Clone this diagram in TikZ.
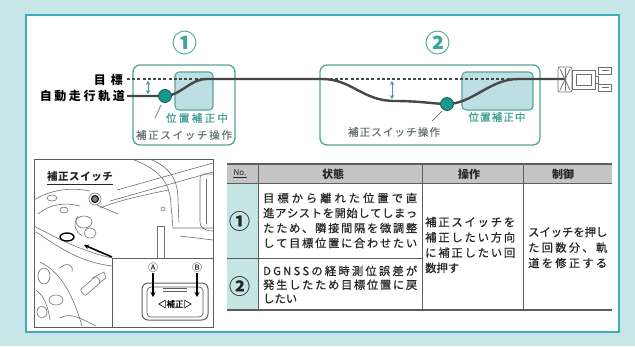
\documentclass[tikz,border=0pt]{standalone}
\usepackage{fontspec}
\setmainfont{Noto Sans CJK JP}
\newfontfamily\jpmed{Noto Sans CJK JP}[FakeBold=0.6]
\usetikzlibrary{arrows.meta,calc}

% spread the characters of one line evenly over a given width
\newcommand\spreadline[2]{\makebox[#1][s]{\spreadgo#2\relax}}
\def\spreadgo#1{#1\spreadnext}
\def\spreadnext#1{\ifx\relax#1\else\hfil#1\expandafter\spreadnext\fi}

\definecolor{bgteal}{HTML}{C8E6E7}
\definecolor{panelline}{HTML}{3AAFBC}
\definecolor{boxline}{HTML}{55A596}
\definecolor{shade}{HTML}{BDDFE3}
\definecolor{dotfill}{HTML}{17988B}
\definecolor{dotline}{HTML}{0E5E56}
\definecolor{trackc}{HTML}{474747}
\definecolor{numteal}{HTML}{3FA596}
\definecolor{tealtext}{HTML}{3C9C93}
\definecolor{graytext}{HTML}{667373}
\definecolor{headfill}{HTML}{C5C5C5}
\definecolor{nofill}{HTML}{C6E6E6}
\definecolor{rulec}{HTML}{5E5E5E}
\definecolor{tabtext}{HTML}{262626}
\definecolor{inkc}{HTML}{707070}

\tikzset{
  areabox/.style={draw=boxline, line width=1.3pt, rounded corners=7pt, fill=white},
  shadebox/.style={draw=boxline, line width=1.1pt, rounded corners=4pt, fill=shade},
  track/.style={draw=trackc, line width=2.4pt},
  targetline/.style={draw=trackc, line width=1.1pt, dash pattern=on 3pt off 2.2pt},
  posdot/.style={circle, fill=dotfill, draw=dotline, line width=0.8pt, minimum size=13pt, inner sep=0pt},
  gap/.style={draw=tealtext, line width=0.9pt, {Stealth[length=4pt,width=4.5pt]}-{Stealth[length=4pt,width=4.5pt]}},
  leader/.style={draw=graytext, line width=0.7pt},
  bigno/.style={font=\bfseries\fontsize{25}{25}\selectfont, text=numteal, inner sep=0pt},
  tabno/.style={font=\bfseries\fontsize{21}{21}\selectfont, text=tabtext, inner sep=0pt},
  lbl/.style={font=\bfseries\fontsize{12}{12}\selectfont, inner sep=0pt},
  smallteal/.style={font=\jpmed\fontsize{10.5}{10.5}\selectfont, text=tealtext, inner sep=0pt},
  smallgray/.style={font=\jpmed\fontsize{10.5}{10.5}\selectfont, text=graytext, inner sep=0pt},
  headtxt/.style={font=\bfseries\fontsize{11}{11}\selectfont, text=tabtext, inner sep=0pt},
  cell/.style={font=\jpmed\fontsize{11.3}{15}\selectfont, align=left, inner sep=0pt, text=tabtext},
  rule/.style={draw=rulec, line width=1pt},
  ink/.style={draw=inkc, line width=0.6pt},
  frame/.style={draw=rulec, line width=0.8pt},
  tractorline/.style={draw=inkc, line width=0.8pt},
  blackarrow/.style={draw=black, line width=1.6pt, -{Stealth[length=5pt,width=5pt]}}
}

\begin{document}
\begin{tikzpicture}[x=1pt,y=-1pt]
\useasboundingbox (0,0) rectangle (635,346);
\fill[bgteal] (0,0) rectangle (635,346);
\draw[draw=panelline, line width=1.4pt, fill=white] (26,15) rectangle (619,332);

% ---------- upper diagram: two correction areas ----------
\node[bigno] (n1) at (185,43) {①};
\node[bigno] (n2) at (438,43) {②};

\draw[areabox] (133,65) rectangle (235,145);
\draw[areabox] (320,65) rectangle (540,145);
\draw[shadebox] (175,72) rectangle (213,110);
\draw[shadebox] (462,72) rectangle (533,110);

\node[lbl, anchor=east] (lblT) at (123,80) {\spreadline{29pt}{目標}};
\node[lbl, anchor=east] (lblA) at (125,96) {\spreadline{85pt}{自動走行軌道}};

\coordinate (tgtS) at (127,79);
\coordinate (tgtE) at (562,79);
\coordinate (trkS) at (127,96);
\coordinate (trkE) at (566,79);

\draw[targetline] (tgtS) -- (tgtE);
\draw[track] (trkS) -- (165,96)
  .. controls (180,96) and (190,79) .. (207,79) -- (322,79)
  .. controls (352,79) and (362,101) .. (395,101)
  .. controls (420,101) and (435,104) .. (447,104)
  .. controls (472,104) and (490,79) .. (518,79) -- (trkE);

\node[posdot] (d1) at (165,96) {};
\node[posdot] (d2) at (447,104) {};

\coordinate (g1a) at (148,81); \coordinate (g1b) at (148,94);
\coordinate (g2a) at (392,81); \coordinate (g2b) at (392,99);
\draw[gap] (g1a) -- (g1b);
\draw[gap] (g2a) -- (g2b);

\node[smallteal] (c1) at (197,118) {\spreadline{62pt}{位置補正中}};
\node[smallgray] (o1) at (184,135) {\spreadline{96pt}{補正スイッチ操作}};
\node[smallteal] (c2) at (497,117) {\spreadline{57pt}{位置補正中}};
\node[smallgray] (o2) at (394,132) {\spreadline{92pt}{補正スイッチ操作}};

\coordinate (l1a) at (161,105); \coordinate (l1b) at (155,118);
\coordinate (l2a) at (442,111); \coordinate (l2b) at (432,121);
\draw[leader] (l1a) -- (l1b);
\draw[leader] (l2a) -- (l2b);

% tractor seen from above
\draw[tractorline, rounded corners=2pt] (558,67) rectangle (572,92);
\draw[tractorline] (560,69) -- (570,90) (570,69) -- (560,90);
\draw[tractorline] (565,68) -- (565,91);
\draw[tractorline] (572,70) rectangle (595,89);
\draw[tractorline] (576,74) rectangle (591,85);
\draw[tractorline] (595,76) rectangle (598,83);
\draw[tractorline] (598,67) rectangle (611,74);
\draw[tractorline] (598,84) rectangle (611,91);
\draw[tractorline] (602,70) -- (609,70) (602,87) -- (609,87);

% ---------- switch illustration ----------
\draw[frame, fill=white] (34,159) rectangle (213,327);
\node[font=\bfseries\fontsize{10.5}{10.5}\selectfont, text=tabtext, inner sep=0pt] (swl) at (80,177) {\spreadline{66pt}{補正スイッチ}};
\draw[draw=tabtext, line width=0.8pt] ($(swl.south west)+(0,2)$) -- ($(swl.south east)+(0,2)$);

% cab pillar, window and dash
\draw[ink] (132,159) .. controls (160,170) and (170,182) .. (171,205) -- (173,228) -- (213,228);
\draw[ink] (150,159) .. controls (172,168) and (178,182) .. (178,200) -- (179,222);
\draw[ink] (213,174) -- (204,174) .. controls (201,174) and (200,176) .. (200,180) -- (200,222) .. controls (200,227) and (204,231) .. (213,231);
\draw[ink] (206,179) -- (206,224);
\draw[ink] (110,201) -- (213,172);
\draw[ink] (117,190) -- (213,163);
\draw[ink] (100,208) .. controls (120,200) and (140,196) .. (168,190);
\draw[ink] (157,258) -- (157,226) -- (164,226) -- (164,258);
\draw[ink] (163,209) circle (2);
\draw[ink] (180,236) -- (213,240);
% left console and knob
\draw[ink] (34,200) .. controls (50,190) and (70,187) .. (90,191);
\draw[ink] (38,214) .. controls (50,204) and (65,202) .. (80,206);
\draw[ink] (52,198) ellipse (5 and 3);
\draw[ink] (64,210) ellipse (4 and 3);
\draw[draw=black, line width=1pt, fill=gray] (95,199) circle (3.5);
\draw[ink] (95,199) circle (6);
\draw[ink] (97,205) -- (118,214);
\draw[ink] (84,222) ellipse (8 and 6);
\draw[ink] (90,233) ellipse (6 and 5);
\draw[ink] (78,216) .. controls (72,225) and (76,232) .. (82,236);
\draw[ink] (34,226) .. controls (60,240) and (85,252) .. (112,258);
\draw[ink] (36,232) .. controls (60,248) and (80,262) .. (112,266);
\draw[draw=black, line width=1.4pt] (67,237) ellipse (7 and 4);
% lower left controls
\draw[ink] (40,262) .. controls (60,272) and (72,292) .. (82,326);
\draw[ink] (44,276) ellipse (6 and 8);
\draw[ink] (56,300) ellipse (7 and 5);
\draw[ink] (42,312) ellipse (5 and 6);
\draw[ink] (60,268) .. controls (66,262) and (74,264) .. (72,272);
\draw[ink, rounded corners=2pt] (80,290) -- (96,276) -- (101,282) -- (85,296) -- cycle;
\draw[ink] (92,278) -- (104,272) -- (106,278) -- (99,283);
\draw[ink] (36,290) .. controls (44,296) and (48,306) .. (50,320);
\draw[ink] (60,318) .. controls (70,312) and (80,318) .. (96,326);

% inset with the switch
\draw[frame, fill=white] (112,258) rectangle (213,327);
\coordinate (armTo) at (84,245);
\draw[blackarrow] (112,257) -- (armTo);
\node[font=\fontsize{10}{10}\selectfont, inner sep=0pt] (keyA) at (153,268) {Ⓐ};
\node[font=\fontsize{10}{10}\selectfont, inner sep=0pt] (keyB) at (197,268) {Ⓑ};
\coordinate (tipA) at (153,297);
\coordinate (tipB) at (197,297);
\draw[draw=rulec, line width=1pt, rounded corners=6pt] (142,283) rectangle (208,320);
\draw[draw=rulec, line width=0.7pt, rounded corners=4pt] (147,287) rectangle (203,317);
\draw[draw=rulec, line width=0.7pt] (163,288) -- (187,288) (163,291) -- (187,291);
\node[font=\jpmed\fontsize{8.5}{8.5}\selectfont, inner sep=0pt] (swtxt) at (175,304) {◁補正▷};
\draw[blackarrow] (keyA.south) -- (tipA);
\draw[blackarrow] (keyB.south) -- (tipB);

% ---------- table ----------
\fill[headfill] (227,164) rectangle (612,183);
\fill[nofill] (227,183) rectangle (258,310);
\draw[rule, line width=1.4pt] (227,164) -- (612,164);
\draw[rule] (227,183) -- (612,183);
\draw[rule] (227,258) -- (422,258);
\draw[rule, line width=1.4pt] (227,310) -- (612,310);
\draw[rule] (258,164) -- (258,310);
\draw[rule] (422,164) -- (422,310);
\draw[rule] (523,164) -- (523,310);

\node[font=\fontsize{8}{8}\selectfont, text=tabtext, inner sep=0pt] (hno) at (240,173) {No.};
\draw[draw=tabtext, line width=0.5pt] ($(hno.south west)+(0,1)$) -- ($(hno.south east)+(0,1)$);
\node[headtxt] (hst) at (333,174) {状態};
\node[headtxt] (hop) at (469,174) {操作};
\node[headtxt] (hct) at (563,174) {制御};

\node[tabno] (t1) at (240,222) {①};
\node[tabno] (t2) at (240,287) {②};

\node[cell, anchor=west] (s1) at (263,220.5) {%
\spreadline{154pt}{目標から離れた位置で直}\\
\spreadline{154pt}{進アシストを開始してしまっ}\\
\spreadline{154pt}{たため、隣接間隔を微調整}\\
\spreadline{154pt}{して目標位置に合わせたい}};
\node[cell, anchor=west, font=\jpmed\fontsize{11.3}{13.8}\selectfont] (s2) at (263,284.5) {%
\spreadline{154pt}{DGNSSの経時測位誤差が}\\
\spreadline{154pt}{発生したため目標位置に戻}\\
したい};
\node[cell, anchor=west, font=\jpmed\fontsize{11.3}{15.3}\selectfont] (op) at (425,245) {%
\spreadline{90pt}{補正スイッチを}\\
\spreadline{90pt}{補正したい方向}\\
\spreadline{90pt}{に補正したい回}\\
数押す};
\node[cell, anchor=west, font=\jpmed\fontsize{11.3}{15.5}\selectfont] (ct) at (528,247.5) {%
\spreadline{79pt}{スイッチを押し}\\
\spreadline{79pt}{た回数分、軌}\\
\spreadline{79pt}{道を修正する}};
\end{tikzpicture}
\end{document}
